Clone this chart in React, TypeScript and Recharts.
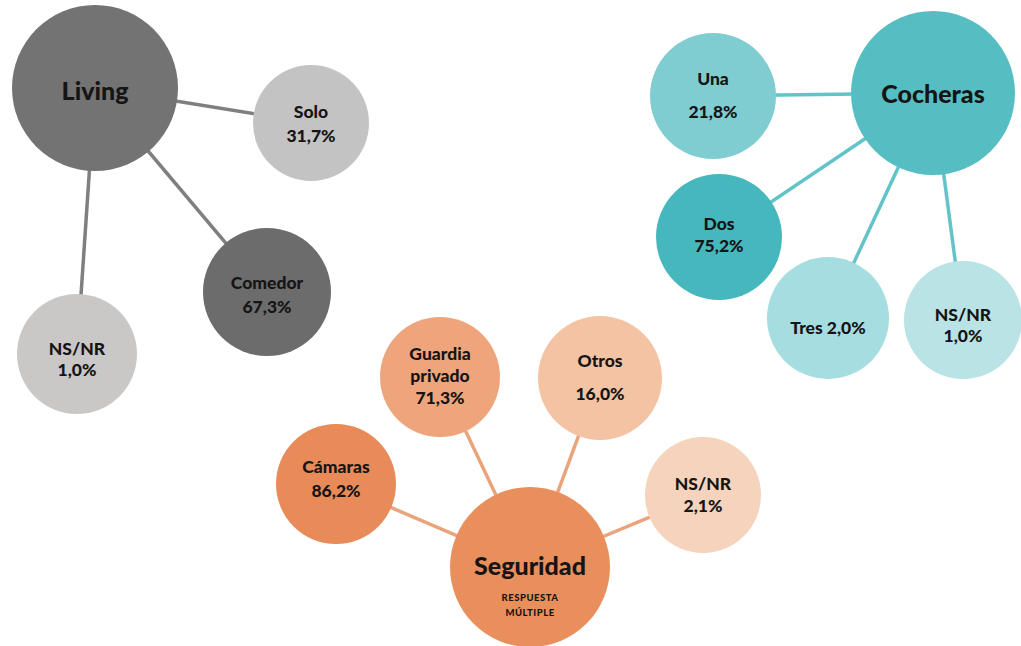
import React from 'react';
import { ScatterChart, Scatter, XAxis, YAxis } from 'recharts';

const W = 1021;
const H = 646;

// ---- Data ----
const hubTitles = ['Living', 'Cocheras', 'Seguridad'];
const seguridadNote = ['RESPUESTA', 'MÚLTIPLE'];

const livingLabels = ['Solo', 'Comedor', 'NS/NR'];
const livingValues = [31.7, 67.3, 1.0];

const cocherasLabels = ['Una', 'Dos', 'Tres', 'NS/NR'];
const cocherasValues = [21.8, 75.2, 2.0, 1.0];

const seguridadLabels = ['Cámaras', 'Guardia privado', 'Otros', 'NS/NR'];
const seguridadValues = [86.2, 71.3, 16.0, 2.1];

// ---- Layout (diagram positions in chart units, radii, colours, text offsets) ----
const hubLayout = [
  { x: 95, y: 88, r: 83, fill: '#737373', line: '#7f7f7f', dy: [12] },
  { x: 933, y: 93, r: 82, fill: '#56bec3', line: '#62c4c8', dy: [10] },
  { x: 530, y: 567, r: 80, fill: '#e98f5c', line: '#eaa47c', dy: [8] },
];

const livingLayout = [
  { x: 311, y: 123, r: 58, fill: '#c3c3c3', mode: 'stack', dy: [-5, 19] },
  { x: 267, y: 292, r: 64, fill: '#6c6c6c', mode: 'stack', dy: [-3, 21] },
  { x: 77, y: 354, r: 60, fill: '#cac7c7', mode: 'stack', dy: [1, 22] },
];
const cocherasLayout = [
  { x: 713, y: 96, r: 63, fill: '#7fcdd1', mode: 'stack', dy: [-11, 22] },
  { x: 719, y: 237, r: 63, fill: '#46b7bc', mode: 'stack', dy: [-7, 15] },
  { x: 828, y: 318, r: 61, fill: '#a6dde0', mode: 'inline', dy: [16] },
  { x: 963, y: 320, r: 59, fill: '#b9e3e5', mode: 'stack', dy: [1, 22] },
];
const seguridadLayout = [
  { x: 336, y: 484, r: 60, fill: '#e98b59', mode: 'stack', dy: [-11, 13] },
  { x: 440, y: 377, r: 60, fill: '#eea57c', mode: 'split', dy: [-17, 5, 27] },
  { x: 600, y: 378, r: 62, fill: '#f3c3a3', mode: 'stack', dy: [-11, 22] },
  { x: 703, y: 495, r: 58, fill: '#f6d3bc', mode: 'stack', dy: [-5, 17] },
];

const FONT = 'Lato, "Open Sans", sans-serif';
const TEXT = '#151515';

const fmt = (v: number) => v.toFixed(1).replace('.', ',') + '%';

function lineTexts(label: string, value: number, mode: string): string[] {
  if (mode === 'inline') return [label + ' ' + fmt(value)];
  if (mode === 'split') return [...label.split(' '), fmt(value)];
  return [label, fmt(value)];
}

const buildLeaves = (labels: string[], values: number[], layout: any[]) =>
  labels.map((label, i) => ({
    ...layout[i],
    label,
    value: values[i],
    texts: lineTexts(label, values[i], layout[i].mode),
  }));

const livingNodes = buildLeaves(livingLabels, livingValues, livingLayout);
const cocherasNodes = buildLeaves(cocherasLabels, cocherasValues, cocherasLayout);
const seguridadNodes = buildLeaves(seguridadLabels, seguridadValues, seguridadLayout);

const hubs = hubTitles.map((t, i) => ({ ...hubLayout[i], title: t, idx: i }));
const groups = [livingNodes, cocherasNodes, seguridadNodes];

const LeafShape = (props: any) => {
  const { cx, cy, payload } = props;
  if (cx == null || cy == null) return <g />;
  return (
    <g>
      <circle cx={cx} cy={cy} r={payload.r} fill={payload.fill} />
      {payload.texts.map((t: string, k: number) => (
        <text
          key={k}
          x={cx}
          y={cy + payload.dy[k]}
          textAnchor="middle"
          fontFamily={FONT}
          fontWeight={900}
          fontSize={17.5}
          fill={TEXT}
        >
          {t}
        </text>
      ))}
    </g>
  );
};

const HubShape = (props: any) => {
  const { cx, cy, payload } = props;
  if (cx == null || cy == null) return <g />;
  return (
    <g>
      <circle cx={cx} cy={cy} r={payload.r} fill={payload.fill} />
      <text
        x={cx}
        y={cy + payload.dy[0]}
        textAnchor="middle"
        fontFamily={FONT}
        fontWeight={900}
        fontSize={25}
        fill={TEXT}
      >
        {payload.title}
      </text>
      {payload.idx === 2 &&
        seguridadNote.map((t, k) => (
          <text
            key={t}
            x={cx}
            y={cy + 34 + k * 15}
            textAnchor="middle"
            fontFamily={FONT}
            fontWeight={900}
            fontSize={9.5}
            letterSpacing={0.5}
            fill={TEXT}
          >
            {t}
          </text>
        ))}
    </g>
  );
};

const Empty = () => <g />;

export default function App() {
  const links: any[] = [];
  groups.forEach((g, gi) => {
    g.forEach((leaf, li) => {
      links.push({ key: `l-${gi}-${li}`, color: hubs[gi].line, data: [hubs[gi], leaf] });
    });
  });

  return (
    <div style={{ position: 'absolute', left: 0, top: 0, background: '#ffffff' }}>
      <ScatterChart width={W} height={H} margin={{ top: 0, right: 0, bottom: 0, left: 0 }}>
        <XAxis type="number" dataKey="x" domain={[0, W]} hide allowDataOverflow />
        <YAxis type="number" dataKey="y" domain={[0, H]} reversed hide allowDataOverflow />
        {links.map((l) => (
          <Scatter
            key={l.key}
            data={l.data}
            line={{ stroke: l.color, strokeWidth: 3.5 }}
            stroke={l.color}
            shape={Empty}
            isAnimationActive={false}
            legendType="none"
          />
        ))}
        {groups.map((g, gi) => (
          <Scatter
            key={`g-${gi}`}
            data={g}
            shape={LeafShape}
            isAnimationActive={false}
            legendType="none"
          />
        ))}
        <Scatter data={hubs} shape={HubShape} isAnimationActive={false} legendType="none" />
      </ScatterChart>
    </div>
  );
}
